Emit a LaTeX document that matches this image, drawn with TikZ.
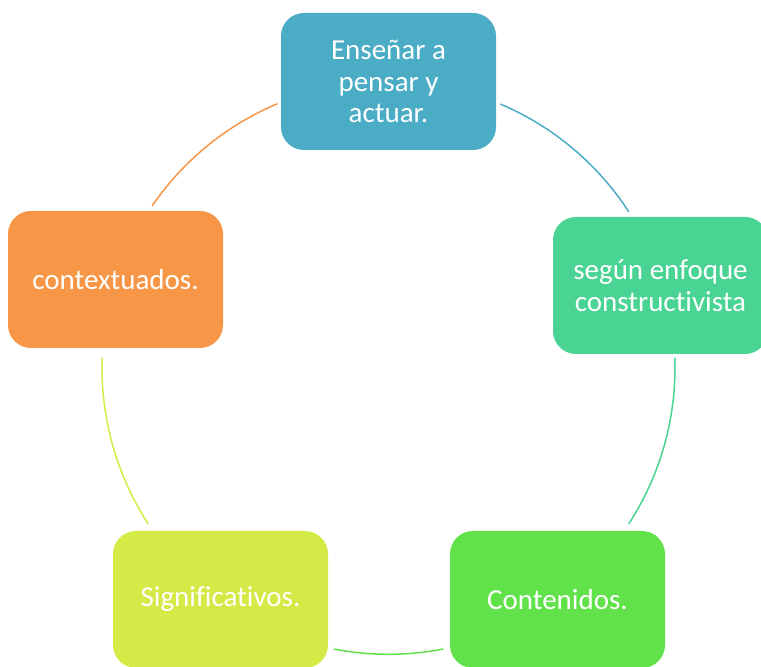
\documentclass[tikz,border=0pt]{standalone}
\usepackage{fontspec}
\setmainfont{Carlito}[Ligatures=NoCommon]
\definecolor{cblue}{HTML}{4BACC6}
\definecolor{cteal}{HTML}{4AD493}
\definecolor{cgreen}{HTML}{62E24A}
\definecolor{cyell}{HTML}{D4EA46}
\definecolor{corange}{HTML}{F79646}
\begin{document}
\begin{tikzpicture}[x=1pt,y=1pt,
  box/.style={rounded corners=23pt, minimum width=215pt, minimum height=137pt,
    inner sep=0pt, align=center, text=white,
    font=\fontsize{29}{31.5}\selectfont},
  link/.style={line width=1.5pt}]
\useasboundingbox (0,0) rectangle (761,667);
\coordinate (c) at (388.5,299.2);
\def\R{286.5}
\node[box, fill=cblue] (n1) at (388.5,585.5) {Enseñar a\\pensar y\\actuar.};
\node[box, fill=cteal] (n2) at (660.5,381.5) {según enfoque\\constructivista};
\node[box, fill=cgreen] (n3) at (557.5,67.5) {Contenidos.};
\node[box, fill=cyell] (n4) at (220.5,67.5) {Significativos.};
\node[box, fill=corange] (n5) at (115.5,387.5) {contextuados.};
\draw[link, cblue] (c) ++(67:\R) arc[start angle=67, end angle=33, radius=\R];
\draw[link, cteal] (c) ++(2:\R) arc[start angle=2, end angle=-33, radius=\R];
\draw[link, cgreen] (c) ++(-79:\R) arc[start angle=-79, end angle=-101, radius=\R];
\draw[link, cyell] (c) ++(213:\R) arc[start angle=213, end angle=178, radius=\R];
\draw[link, corange] (c) ++(145.6:\R) arc[start angle=145.6, end angle=112.8, radius=\R];
\end{tikzpicture}
\end{document}
